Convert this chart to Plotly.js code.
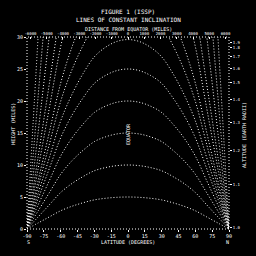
<!DOCTYPE html>
<html><head><meta charset="utf-8">
<script src="https://cdn.plot.ly/plotly-3.0.1.min.js"></script>
<style>html,body{margin:0;padding:0;background:#000;}#c{width:256px;height:256px;}</style>
</head><body><div id="c"></div>
<script>
// Latitude samples (degrees)
const latitudes = [-90,-80,-70,-60,-50,-40,-30,-20,-10,0,10,20,30,40,50,60,70,80,90];
// Heights, one array per line
const h5   = [0,0.95,1.9,2.85,3.55,4.1,4.55,4.8,4.95,5,4.95,4.8,4.55,4.1,3.55,2.85,1.9,0.95,0];
const h10  = [0,1.9,3.8,5.7,7.1,8.2,9.1,9.6,9.9,10,9.9,9.6,9.1,8.2,7.1,5.7,3.8,1.9,0];
const h15  = [0,2.85,5.7,8.55,10.65,12.3,13.65,14.4,14.85,15,14.85,14.4,13.65,12.3,10.65,8.55,5.7,2.85,0];
const h20  = [0,3.8,7.6,11.4,14.2,16.4,18.2,19.2,19.8,20,19.8,19.2,18.2,16.4,14.2,11.4,7.6,3.8,0];
const h25  = [0,4.75,9.5,14.25,17.75,20.5,22.75,24,24.75,25,24.75,24,22.75,20.5,17.75,14.25,9.5,4.75,0];
const h30  = [0,5.6,11.2,16.9,21,24.3,26.9,28.4,29.3,29.6,29.3,28.4,26.9,24.3,21,16.9,11.2,5.6,0];
const h35  = [0,6.65,13.3,19.95,24.85,28.7,31.85,33.6,34.65,35,34.65,33.6,31.85,28.7,24.85,19.95,13.3,6.65,0];
const h40  = [0,7.6,15.2,22.8,28.4,32.8,36.4,38.4,39.6,40,39.6,38.4,36.4,32.8,28.4,22.8,15.2,7.6,0];
const h50  = [0,9.5,19,28.5,35.5,41,45.5,48,49.5,50,49.5,48,45.5,41,35.5,28.5,19,9.5,0];
const h60  = [0,11.4,22.8,34.2,42.6,49.2,54.6,57.6,59.4,60,59.4,57.6,54.6,49.2,42.6,34.2,22.8,11.4,0];
const h80  = [0,15.2,30.4,45.6,56.8,65.6,72.8,76.8,79.2,80,79.2,76.8,72.8,65.6,56.8,45.6,30.4,15.2,0];
const h110 = [0,20.9,41.8,62.7,78.1,90.2,100.1,105.6,108.9,110,108.9,105.6,100.1,90.2,78.1,62.7,41.8,20.9,0];
const h160 = [0,30.4,60.8,91.2,113.6,131.2,145.6,153.6,158.4,160,158.4,153.6,145.6,131.2,113.6,91.2,60.8,30.4,0];
const seriesList = [h5,h10,h15,h20,h25,h30,h35,h40,h50,h60,h80,h110,h160];

const latTicks = [-90,-75,-60,-45,-30,-15,0,15,30,45,60,75,90];
const latLabels = ["-90","-75","-60","-45","-30","-15","0","15","30","45","60","75","90"];
const mileTicks = [-6000,-5000,-4000,-3000,-2000,-1000,0,1000,2000,3000,4000,5000,6000];
const mileLabels = ["-6000","-5000","-4000","-3000","-2000","-1000","0","1000","2000","3000","4000","5000","6000"];
const heightTicks = [0,5,10,15,20,25,30];
const heightLabels = ["0","5","10","15","20","25","30"];
const rightTickPos = [0.2,6.9,12.2,16.7,20.2,22.9,25.1,26.9,28.3,29.2];
const rightLabels = ["1.0","1.1","1.2","1.3","1.4","1.5","1.6","1.7","1.8","1.9"];

const W = '#ffffff';
const F = 'DejaVu Sans Mono';
const traces = seriesList.map(s => ({
  x: latitudes, y: s, type: 'scatter', mode: 'lines',
  line: {color: W, width: 1, dash: '1px,2px', shape: 'spline', smoothing: 1},
  hoverinfo: 'skip', showlegend: false
}));
traces.push({x: mileTicks, y: mileTicks.map(() => null), xaxis: 'x2', yaxis: 'y', mode: 'markers', showlegend: false, hoverinfo: 'skip'});
traces.push({x: latTicks, y: latTicks.map(() => null), xaxis: 'x', yaxis: 'y2', mode: 'markers', showlegend: false, hoverinfo: 'skip'});

const ax = {showgrid: false, zeroline: false, showline: false, color: W, tickcolor: W, ticklen: 2, tickwidth: 1, tickangle: 0, tickfont: {family: F, size: 5, color: W}};
const layout = {
  width: 256, height: 256,
  margin: {l: 27, r: 27, t: 37, b: 27},
  paper_bgcolor: '#000', plot_bgcolor: '#000',
  font: {family: F, size: 6, color: W},
  xaxis: Object.assign({}, ax, {range: [-90, 90], tickmode: 'array', tickvals: latTicks, ticktext: latLabels, ticks: 'outside', side: 'bottom'}),
  xaxis2: Object.assign({}, ax, {range: [-6214, 6214], tickmode: 'array', tickvals: mileTicks, ticktext: mileLabels, ticks: 'inside', side: 'top', overlaying: 'x', anchor: 'y', tickfont: {family: F, size: 4, color: W}}),
  yaxis: Object.assign({}, ax, {range: [0, 30], tickmode: 'array', tickvals: heightTicks, ticktext: heightLabels, ticks: 'outside'}),
  yaxis2: Object.assign({}, ax, {range: [0, 30], tickmode: 'array', tickvals: rightTickPos, ticktext: rightLabels, ticks: 'outside', side: 'right', overlaying: 'y', anchor: 'x', tickfont: {family: F, size: 4, color: W}}),
  shapes: [
    {type: 'rect', xref: 'paper', yref: 'paper', x0: 0, x1: 1, y0: 0, y1: 1, line: {color: W, width: 1, dash: '1px,2px'}}
  ],
  annotations: [
    {text: 'FIGURE 1 (ISSP)', xref: 'paper', yref: 'paper', x: 0.5, y: 1.161, showarrow: false, font: {family: F, size: 6, color: W}},
    {text: 'LINES OF CONSTANT INCLINATION', xref: 'paper', yref: 'paper', x: 0.5, y: 1.12, showarrow: false, font: {family: F, size: 6, color: W}},
    {text: 'DISTANCE FROM EQUATOR (MILES)', xref: 'paper', yref: 'paper', x: 0.5, y: 1.068, showarrow: false, font: {family: F, size: 5, color: W}},
    {text: 'LATITUDE (DEGREES)', xref: 'paper', yref: 'paper', x: 0.5, y: -0.095, showarrow: false, font: {family: F, size: 5, color: W}},
    {text: 'HEIGHT (MILES)', xref: 'paper', yref: 'paper', x: -0.095, y: 0.547, showarrow: false, textangle: -90, font: {family: F, size: 5, color: W}},
    {text: 'ALTITUDE (EARTH RADII)', xref: 'paper', yref: 'paper', x: 1.1, y: 0.49, showarrow: false, textangle: -90, font: {family: F, size: 5, color: W}},
    {text: 'EQUATOR', xref: 'paper', yref: 'paper', x: 0.5, y: 0.495, showarrow: false, textangle: -90, font: {family: F, size: 5, color: W}},
    {text: 'S', xref: 'paper', yref: 'paper', x: -0.01, y: -0.095, showarrow: false, font: {family: F, size: 5, color: W}},
    {text: 'N', xref: 'paper', yref: 'paper', x: 1.01, y: -0.095, showarrow: false, font: {family: F, size: 5, color: W}}
  ]
};
Plotly.newPlot('c', traces, layout, {staticPlot: true, displayModeBar: false});
</script></body></html>
